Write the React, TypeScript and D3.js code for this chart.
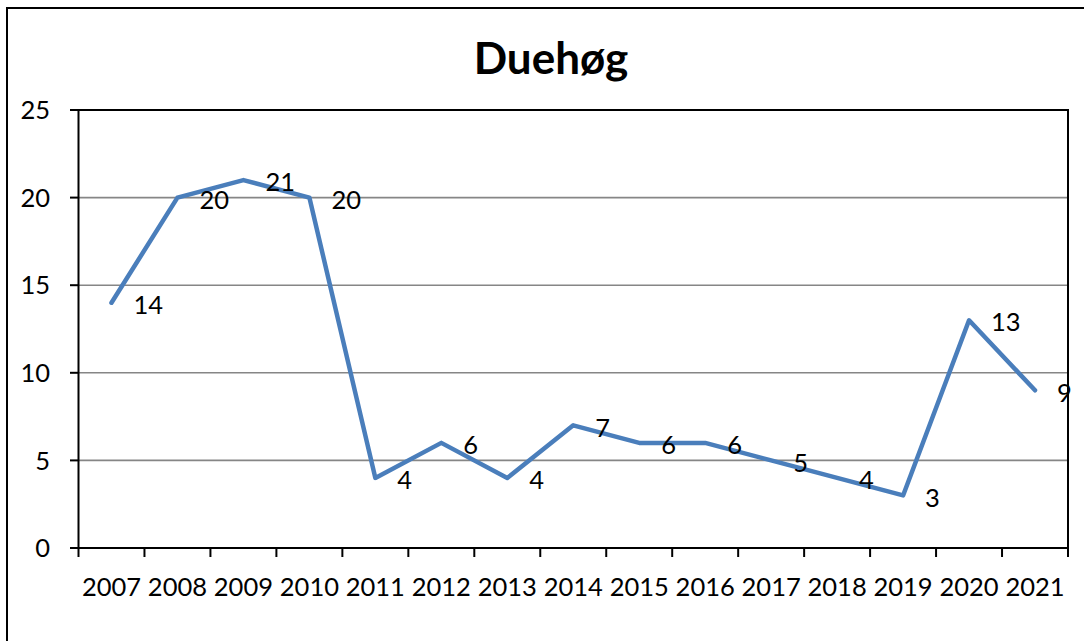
import React from "react";
import * as d3 from "d3";

const years = ["2007","2008","2009","2010","2011","2012","2013","2014","2015","2016","2017","2018","2019","2020","2021"];
const values = [14, 20, 21, 20, 4, 6, 4, 7, 6, 6, 5, 4, 3, 13, 9];
const yTicks = [0, 5, 10, 15, 20, 25];
const title = "Duehøg";

const W = 1084, H = 641;
const left = 78.5, right = 1068, top = 110, bottom = 548;
const FONT = "Lato, 'Open Sans', sans-serif";

export default function App() {
  const x = d3.scaleBand<string>().domain(years).range([left, right]).paddingInner(0).paddingOuter(0);
  const y = d3.scaleLinear().domain([0, 25]).range([bottom, top]);
  const cx = (yr: string) => (x(yr) as number) + x.bandwidth() / 2;
  const line = d3.line<number>().x((_, i) => cx(years[i])).y((d) => y(d));
  const tickXs = years.map((yr) => x(yr) as number).concat([right]);

  return (
    <svg width={W} height={H} style={{ position: "absolute", left: 0, top: 0, background: "#fff" }}>
      <rect x={7} y={8} width={W + 20} height={H + 20} fill="#fff" stroke="#000" strokeWidth={2} />
      <text x={551} y={74} textAnchor="middle" fontFamily={FONT} fontWeight="bold" fontSize={44} fill="#000">{title}</text>
      {yTicks.filter((t) => t > 0 && t < 25).map((t) => (
        <line key={"g" + t} x1={left} x2={right} y1={y(t)} y2={y(t)} stroke="#868686" strokeWidth={1.6} />
      ))}
      <rect x={left} y={top} width={right - left} height={bottom - top} fill="none" stroke="#000" strokeWidth={2} />
      {yTicks.map((t) => (
        <g key={"y" + t}>
          <line x1={70} x2={left} y1={y(t)} y2={y(t)} stroke="#000" strokeWidth={2} />
          <text x={50} y={y(t)} dy="0.36em" textAnchor="end" fontFamily={FONT} fontSize={25.5} fill="#000">{t}</text>
        </g>
      ))}
      {tickXs.map((tx, i) => (
        <line key={"t" + i} x1={tx} x2={tx} y1={bottom} y2={bottom + 9} stroke="#000" strokeWidth={2} />
      ))}
      {years.map((yr) => (
        <text key={"x" + yr} x={cx(yr)} y={587} dy="0.36em" textAnchor="middle" fontFamily={FONT} fontSize={25.5} fill="#000">{yr}</text>
      ))}
      <path d={line(values) || ""} fill="none" stroke="#4A7EBB" strokeWidth={4.5} strokeLinejoin="round" strokeLinecap="round" />
      {values.map((v, i) => (
        <text key={"l" + i} x={cx(years[i]) + 22} y={y(v) + 2} dy="0.36em" textAnchor="start" fontFamily={FONT} fontSize={25.5} fill="#000">{v}</text>
      ))}
    </svg>
  );
}
